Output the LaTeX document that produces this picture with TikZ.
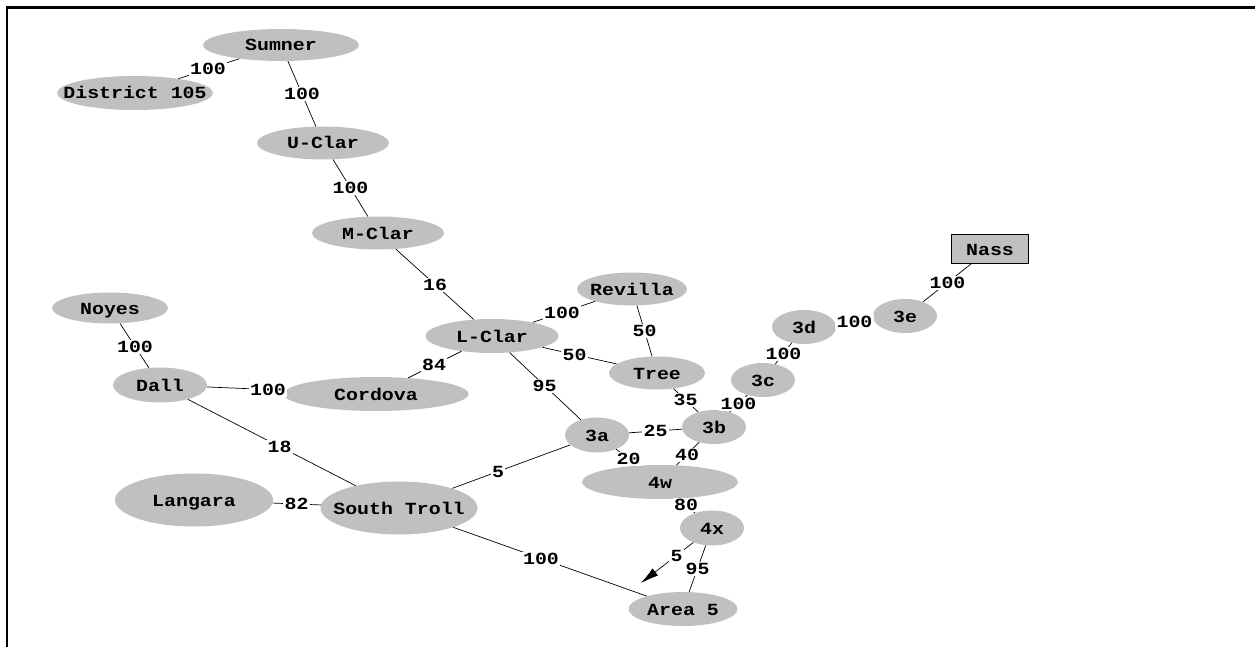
\documentclass[tikz,border=0pt]{standalone}
\usepackage{fontspec}
\usetikzlibrary{shapes.geometric,arrows.meta,calc}
\newfontfamily\gfont[FakeStretch=1.17]{Liberation Mono}
\definecolor{nodegray}{RGB}{192,192,192}
\newcommand{\mk}[1]{\makebox[0pt]{#1}}
\begin{document}
\begin{tikzpicture}[x=1pt,y=-1pt,
  every node/.style={font=\gfont\bfseries\fontsize{17}{17}\selectfont},
  el/.style 2 args={ellipse,fill=nodegray,draw=none,inner sep=0pt,
    minimum width=#1pt,minimum height=#2pt,text height=12pt,text depth=0pt},
  box/.style={rectangle,fill=nodegray,draw=black,line width=0.9pt,inner sep=0pt,
    minimum width=77pt,minimum height=29pt,text height=12pt,text depth=0pt},
  lab/.style={fill=white,inner sep=1.5pt,text height=11pt,text depth=0pt},
  con/.style={draw=black,line width=0.7pt}]
\useasboundingbox (0,0) rectangle (1255,647);
\draw[line width=2.4pt] (7,647) -- (7,7.5) -- (1255,7.5);
% nodes
\node[el={156}{32}] (sumner) at (281,45) {\mk{Sumner}};
\node[el={156}{34}] (district) at (135,93) {\mk{District 105}};
\node[el={132}{33}] (uclar) at (323,143) {\mk{U-Clar}};
\node[el={132}{33}] (mclar) at (378,233) {\mk{M-Clar}};
\node[el={116}{31}] (noyes) at (110,308) {\mk{Noyes}};
\node[el={133}{34}] (lclar) at (492,336) {\mk{L-Clar}};
\node[el={110}{33}] (revilla) at (632,289) {\mk{Revilla}};
\node[el={96}{33}] (tree) at (657,373) {\mk{Tree}};
\node[el={94}{35}] (dall) at (160,385) {\mk{Dall}};
\node[el={185}{34}] (cordova) at (376,394) {\mk{Cordova}};
\node[el={158}{53}] (langara) at (194,500) {\mk{Langara}};
\node[el={157}{53}] (troll) at (399,508) {\mk{South Troll}};
\node[el={64}{35}] (n3a) at (597,435) {\mk{3a}};
\node[el={64}{34}] (n3b) at (714,427) {\mk{3b}};
\node[el={156}{34}] (n4w) at (660,482) {\mk{4w}};
\node[el={64}{35}] (n4x) at (712,528) {\mk{4x}};
\node[el={109}{34}] (area5) at (683,609) {\mk{Area 5}};
\node[el={64}{34}] (n3c) at (763,380) {\mk{3c}};
\node[el={64}{34}] (n3d) at (804,327) {\mk{3d}};
\node[el={64}{34}] (n3e) at (905,316) {\mk{3e}};
\node[box] (nass) at (990,249) {Nass};
\coordinate (tip) at (641,583);
% connectors
\draw[con] (sumner) -- (district);
\draw[con] (sumner) -- (uclar);
\draw[con] (uclar) -- (mclar);
\draw[con] (mclar) -- (lclar);
\draw[con] (revilla) -- (lclar);
\draw[con] (revilla) -- (tree);
\draw[con] (lclar) -- (tree);
\draw[con] (lclar) -- (cordova);
\draw[con] (lclar) -- (n3a);
\draw[con] (tree) -- (n3b);
\draw[con] (n3a) -- (n3b);
\draw[con] (n3b) -- (n3c);
\draw[con] (n3c) -- (n3d);
\draw[con] (n3d) -- (n3e);
\draw[con] (n3e) -- (nass);
\draw[con] (noyes) -- (dall);
\draw[con] (dall) -- (cordova);
\draw[con] (dall) -- (troll);
\draw[con] (langara) -- (troll);
\draw[con] (troll) -- (n3a);
\draw[con] (troll) -- (area5);
\draw[con] (n3a) -- (n4w);
\draw[con] (n3b) -- (n4w);
\draw[con] (n4w) -- (n4x);
\draw[con] (n4x) -- (area5);
\draw[con,-{Latex[length=18pt,width=9pt]}] (n4x) -- (tip);
% labels
\node[lab] (l1) at ($(sumner)!0.5!(district)$) {100};
\node[lab] (l2) at ($(sumner)!0.5!(uclar)$) {100};
\node[lab] (l3) at ($(uclar)!0.5!(mclar)$) {100};
\node[lab] (l4) at ($(mclar)!0.5!(lclar)$) {16};
\node[lab] (l5) at ($(revilla)!0.5!(lclar)$) {100};
\node[lab] (l6) at ($(revilla)!0.5!(tree)$) {50};
\node[lab] (l7) at ($(lclar)!0.5!(tree)$) {50};
\node[lab] (l8) at ($(lclar)!0.5!(cordova)$) {84};
\node[lab] (l9) at ($(lclar)!0.5!(n3a)$) {95};
\node[lab] (l10) at ($(tree)!0.5!(n3b)$) {35};
\node[lab] (l11) at ($(n3a)!0.5!(n3b)$) {25};
\node[lab] (l12) at ($(n3b)!0.5!(n3c)$) {100};
\node[lab] (l13) at ($(n3c)!0.5!(n3d)$) {100};
\node[lab] (l14) at ($(n3d)!0.5!(n3e)$) {100};
\node[lab] (l15) at ($(n3e)!0.5!(nass)$) {100};
\node[lab] (l16) at ($(noyes)!0.5!(dall)$) {100};
\node[lab] (l17) at ($(dall)!0.5!(cordova)$) {100};
\node[lab] (l18) at ($(dall)!0.5!(troll)$) {18};
\node[lab] (l19) at ($(langara)!0.5!(troll)$) {82};
\node[lab] (l20) at ($(troll)!0.5!(n3a)$) {5};
\node[lab] (l21) at ($(troll)!0.5!(area5)$) {100};
\node[lab] (l22) at ($(n3a)!0.5!(n4w)$) {20};
\node[lab] (l23) at ($(n3b)!0.5!(n4w)$) {40};
\node[lab] (l24) at ($(n4w)!0.5!(n4x)$) {80};
\node[lab] (l25) at ($(n4x)!0.5!(area5)$) {95};
\node[lab] (l26) at ($(n4x)!0.5!(tip)$) {5};
\end{tikzpicture}
\end{document}
